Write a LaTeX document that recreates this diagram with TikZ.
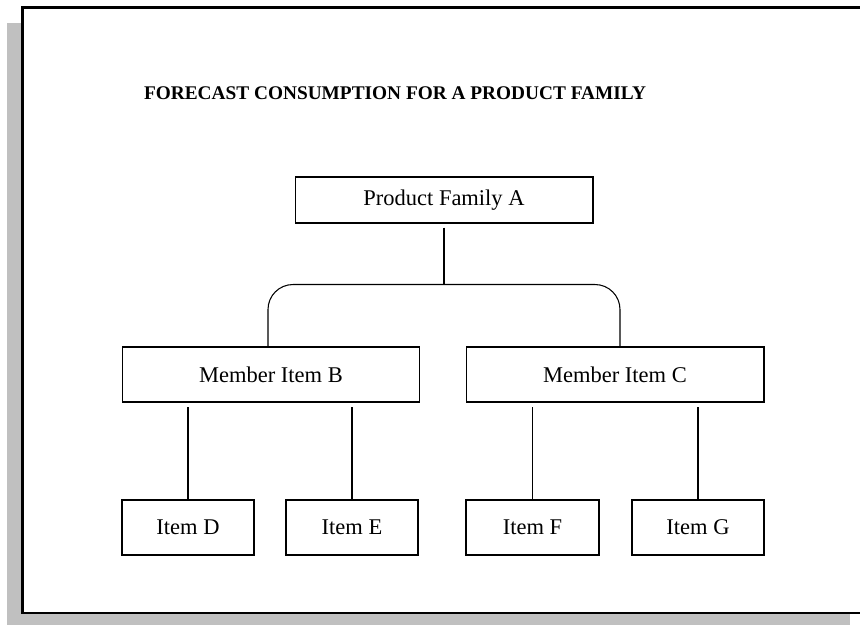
\documentclass[tikz,border=0pt]{standalone}
\usepackage{fontspec}
\setmainfont{Liberation Serif}
\usetikzlibrary{calc}
\definecolor{shadowgray}{RGB}{192,192,192}

\begin{document}
\begin{tikzpicture}[x=0.02cm,y=-0.02cm,
                box/.style={draw,line width=0.6pt,inner sep=0pt,minimum height=1.1cm,font=\fontsize{12.8}{15}\selectfont},
                link/.style={line width=0.6pt}]
                \clip (0,0) rectangle (860,625);
                % frame with its shadow
                \fill[shadowgray] (7,23) rectangle (850,625);
                \filldraw[fill=white,line width=1.2pt] (22.5,7.5) rectangle (880,613);

                \node[anchor=base,font=\bfseries\fontsize{11}{13}\selectfont] (title) at (395,100) {FORECAST CONSUMPTION FOR A PRODUCT FAMILY};

                \node[box,minimum width=5.96cm,minimum height=0.92cm] (famA) at (444,200) {Product Family A};
                \node[box,minimum width=5.96cm] (memB) at (271,374.5) {Member Item B};
                \node[box,minimum width=5.96cm] (memC) at (615,374.5) {Member Item C};
                \node[box,minimum width=2.64cm] (itemD) at (188,527.5) {Item D};
                \node[box,minimum width=2.64cm] (itemE) at (352,527.5) {Item E};
                \node[box,minimum width=2.66cm] (itemF) at (532.5,527.5) {Item F};
                \node[box,minimum width=2.64cm] (itemG) at (698,527.5) {Item G};

                \draw[link] ($(famA.south)+(0,4)$) -- ($(famA.south)+(0,61)$) coordinate (split);
                \draw[link,rounded corners=0.5cm] ($(memB.north)+(-3,0)$) |- (split) -| ($(memC.north)+(5,0)$);

                \coordinate (gapB) at ($(memB.south)+(0,4)$);
                \coordinate (gapC) at ($(memC.south)+(0,4)$);
                \foreach \gap/\leaf in {gapB/itemD,gapB/itemE,gapC/itemF,gapC/itemG} {
                    \draw[link] (\leaf.north) -- (\leaf.north |- \gap);
                }
            \end{tikzpicture}
\end{document}
